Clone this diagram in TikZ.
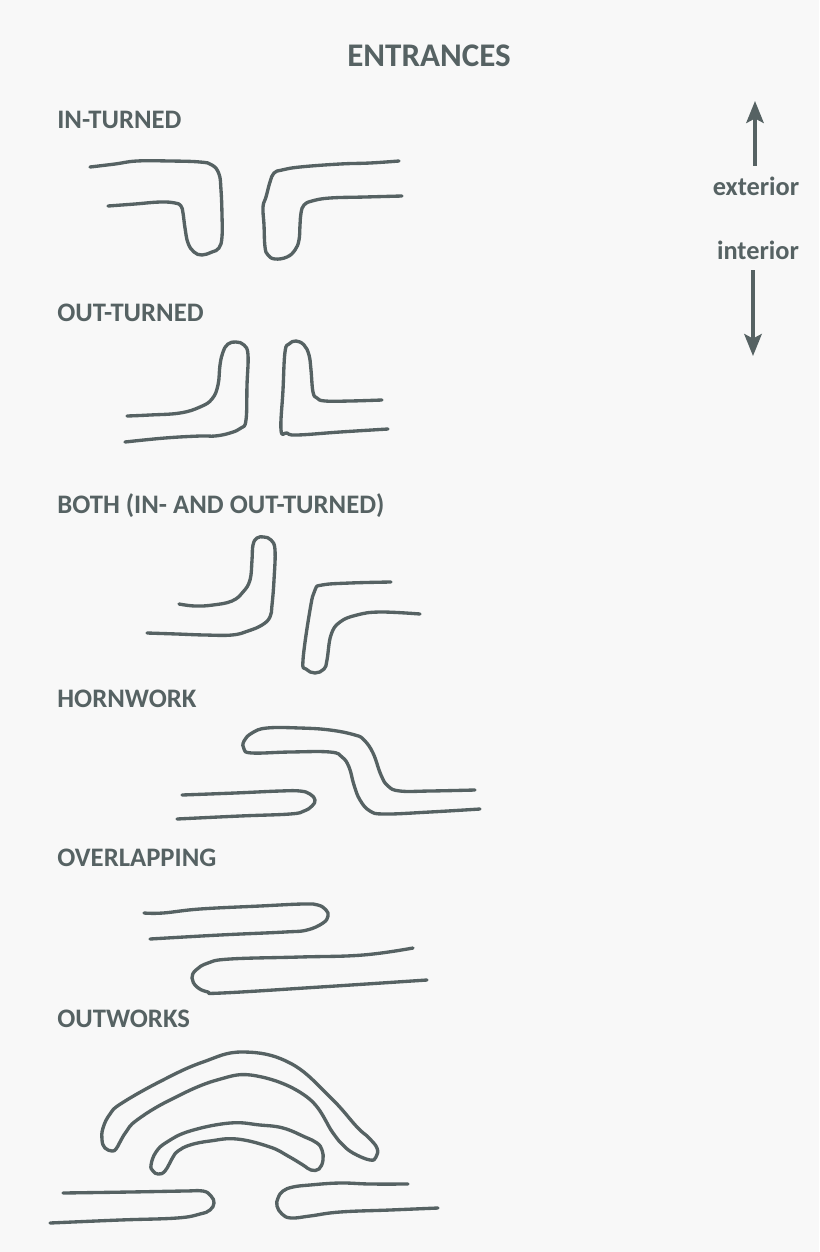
\documentclass[tikz,border=0pt]{standalone}
\usepackage{fontspec}
\setmainfont{Carlito}
\usepackage{xcolor}
\usetikzlibrary{arrows.meta,positioning}
\definecolor{inkc}{HTML}{566263}
\definecolor{paperc}{HTML}{F8F8F8}
\tikzset{
  titlenode/.style={font=\fontsize{18.8}{22}\selectfont\bfseries, text=inkc, inner sep=0pt},
  headnode/.style={font=\fontsize{15.2}{18}\selectfont\bfseries, text=inkc, inner sep=0pt, anchor=west},
  sidenode/.style={font=\fontsize{15}{18}\selectfont\bfseries, text=inkc, inner sep=0pt},
  wallline/.style={draw=inkc, line width=1.9pt, line cap=round, line join=round},
  sideedge/.style={-{Stealth[length=4.4mm, width=3.5mm, inset=0.9mm]}, draw=inkc, line width=1.9pt},
}

\begin{document}
\begin{tikzpicture}[x=0.02cm, y=-0.02cm]
  \fill[paperc] (0,0) rectangle (819,1252);
  \useasboundingbox (0,0) rectangle (819,1252);

  \node[titlenode] (title) at (429,56) {ENTRANCES};
  \node[headnode] (inturned) at (57,120) {IN-TURNED};
  \node[headnode] (outturned) at (57,313) {OUT-TURNED};
  \node[headnode] (both) at (57,506) {BOTH (IN- AND OUT-TURNED)};
  \node[headnode] (hornwork) at (57,699) {HORNWORK};
  \node[headnode] (overlapping) at (57,858) {OVERLAPPING};
  \node[headnode] (outworks) at (57,1019) {OUTWORKS};

  \node[sidenode] (exterior) at (756,186) {exterior};
  \node[sidenode] (interior) at (758,250) {interior};
  \coordinate (exthead) at (755,101);
  \coordinate (inthead) at (753,356);
  \draw[sideedge, shorten <=6pt] (exterior.north -| exthead) -- (exthead);
  \draw[sideedge, shorten <=6pt] (interior.south -| inthead) -- (inthead);

  % in-turned
  \draw[wallline] plot[smooth, tension=0.7] coordinates {(90,167) (115,164) (137,161) (170,161) (200,162) (212,165) (219,174) (221,190) (222,215) (222,237) (219,248) (212,252) (202,255) (194,252) (188,243) (185,228) (183,213) (181,206) (175,203) (160,202) (135,204) (108,206)};
  \draw[wallline] plot[smooth, tension=0.7] coordinates {(399,161) (370,163) (340,164) (300,167) (282,170) (274,173) (270,182) (266,197) (263,207) (264,225) (265,247) (268,255) (275,259) (287,257) (295,250) (299,240) (300,225) (301,213) (304,205) (312,201) (330,198) (365,197) (402,196)};

  % out-turned
  \draw[wallline] plot[smooth, tension=0.7] coordinates {(127,416) (150,415) (180,413) (200,407) (212,399) (218,385) (220,365) (223,352) (228,344) (236,342) (244,345) (248,355) (247,385) (246,420) (241,428) (230,433) (215,436) (200,436) (165,438) (125,442)};
  \draw[wallline] plot[smooth, tension=0.7] coordinates {(382,400) (350,401) (325,401) (317,398) (313,392) (311,370) (309,355) (304,345) (296,341) (289,344) (285,352) (283,390) (281,430) (287,433) (297,435) (340,432) (388,429)};

  % both
  \draw[wallline] plot[smooth, tension=0.7] coordinates {(179,604) (195,606) (213,605) (232,601) (243,592) (250,580) (252,560) (253,545) (257,538) (264,537) (271,540) (275,550) (274,580) (272,605) (270,617) (262,625) (248,631) (232,635) (205,635) (177,634) (147,633)};
  \draw[wallline] plot[smooth, tension=0.7] coordinates {(391,582) (350,583) (322,585) (315,590) (310,610) (303,660) (306,669) (315,673) (324,669) (327,660) (331,635) (340,622) (357,615) (380,612) (420,614)};

  % hornwork
  \draw[wallline] plot[smooth, tension=0.7] coordinates {(475,790) (430,791) (400,791) (388,786) (381,775) (373,753) (364,740) (355,735) (330,730) (300,728) (267,728) (252,733) (244,741) (244,749) (252,753) (290,752) (330,752) (342,757) (349,767) (354,785) (360,800) (370,811) (385,814) (430,812) (480,809)};
  \draw[wallline] plot[smooth, tension=0.7] coordinates {(182,795) (235,793) (280,791) (300,791) (310,794) (315,800) (312,806) (304,811) (290,814) (240,816) (177,819)};

  % overlapping
  \draw[wallline] plot[smooth, tension=0.7] coordinates {(144,913) (163,913) (200,909) (260,906) (303,904) (318,905) (326,910) (328,916) (323,923) (307,930) (285,932) (220,935) (150,939)};
  \draw[wallline] plot[smooth, tension=0.7] coordinates {(413,948) (363,955) (300,957) (230,959) (208,963) (196,970) (192,978) (197,987) (208,992) (222,993) (320,987) (427,980)};

  % outworks
  \draw[wallline] plot[smooth cycle, tension=0.7] coordinates {(112,1151) (105,1148) (102,1140) (103,1128) (110,1114) (122,1103) (163,1080) (203,1062) (243,1052) (290,1063) (330,1097) (357,1127) (368,1137) (377,1148) (376,1157) (370,1160) (353,1153) (342,1144) (333,1133) (307,1097) (257,1076) (217,1080) (170,1100) (137,1120) (126,1132) (120,1142) (116,1149)};
  \draw[wallline] plot[smooth cycle, tension=0.7] coordinates {(158,1174) (153,1171) (151,1165) (156,1152) (167,1142) (190,1131) (230,1123) (260,1125) (283,1128) (305,1137) (317,1143) (322,1150) (323,1160) (319,1169) (311,1170) (303,1165) (288,1156) (270,1147) (237,1139) (210,1141) (190,1145) (178,1151) (173,1157) (165,1171)};
  \draw[wallline] plot[smooth, tension=0.7] coordinates {(63,1193) (130,1192) (185,1191) (203,1191) (211,1196) (214,1203) (210,1210) (200,1214) (177,1218) (120,1220) (50,1223)};
  \draw[wallline] plot[smooth, tension=0.7] coordinates {(408,1184) (370,1184) (340,1183) (310,1185) (293,1187) (283,1191) (278,1198) (277,1206) (282,1214) (291,1218) (310,1216) (340,1212) (390,1210) (438,1208)};
\end{tikzpicture}
\end{document}
